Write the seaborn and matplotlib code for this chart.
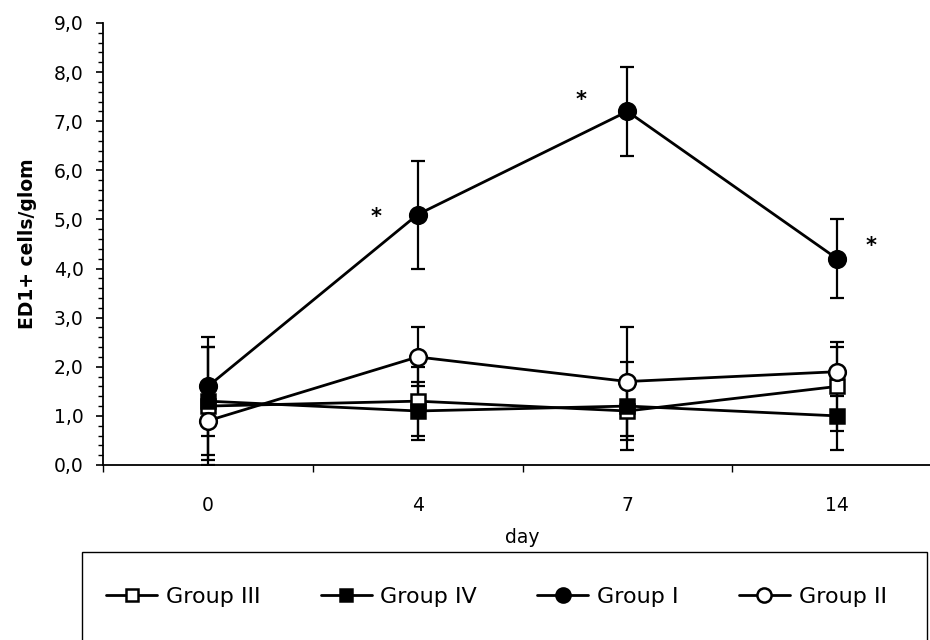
import numpy as np
import matplotlib
matplotlib.use("Agg")
import matplotlib.pyplot as plt
import seaborn as sns
from matplotlib.patches import Rectangle
from matplotlib.ticker import FixedLocator, MultipleLocator, FuncFormatter

# values (mean and error bar half-length)
days = ["0", "4", "7", "14"]
group_labels = ["Group III", "Group IV", "Group I", "Group II"]
group_iii = [1.2, 1.3, 1.1, 1.6]
err_iii = [1.2, 0.7, 0.6, 0.9]
group_iv = [1.3, 1.1, 1.2, 1.0]
err_iv = [1.1, 0.6, 0.9, 0.7]
group_i = [1.6, 5.1, 7.2, 4.2]
err_i = [1.0, 1.1, 0.9, 0.8]
group_ii = [0.9, 2.2, 1.7, 1.9]
err_ii = [0.8, 0.6, 1.1, 0.5]
sig_days = ["4", "7", "14"]

sns.set_style('ticks')
plt.rcParams['font.family'] = ['DejaVu Sans']
plt.rcParams['text.color'] = 'black'
plt.rcParams['axes.labelcolor'] = 'black'

fig = plt.figure(figsize=(9.3, 6.4), dpi=100)
ax = fig.add_axes([103/930, 1 - 465/640, (942 - 103)/930, (465 - 23)/640])

series = [
    (group_iii, err_iii, 's', 'white', 9.5),
    (group_iv, err_iv, 's', 'black', 9.5),
    (group_i, err_i, 'o', 'black', 12),
    (group_ii, err_ii, 'o', 'white', 12),
]

for (vals, errs, mk, fc, ms), lab in zip(series, group_labels):
    ax.errorbar(days, vals, yerr=errs, fmt='none', ecolor='black',
                elinewidth=1.6, capsize=5, capthick=1.6, zorder=2)
    sns.lineplot(x=days, y=vals, sort=False, ax=ax, color='black', lw=2,
                 marker=mk, markersize=ms, markerfacecolor=fc,
                 markeredgecolor='black', markeredgewidth=1.8,
                 label=lab, zorder=3)

handles, labels = ax.get_legend_handles_labels()
ax.get_legend().remove()

# significance stars
star_shift = {"4": (-0.2, -0.05), "7": (-0.22, 0.23), "14": (0.16, 0.26)}
for d in sig_days:
    i = days.index(d)
    dx, dy = star_shift[d]
    ax.text(i + dx, group_i[i] + dy, "*", ha='center', va='center',
            fontsize=15, fontweight='bold')

ax.set_xlim(-0.5, 3.5)
ax.set_ylim(0, 9)
ax.yaxis.set_major_locator(MultipleLocator(1))
ax.yaxis.set_minor_locator(MultipleLocator(0.2))
ax.yaxis.set_major_formatter(FuncFormatter(lambda v, p: f"{v:.1f}".replace('.', ',')))
ax.xaxis.set_minor_locator(FixedLocator([-0.5, 0.5, 1.5, 2.5, 3.5]))

ax.tick_params(axis='both', which='both', colors='black')
ax.tick_params(axis='y', which='major', length=5, width=1.2, pad=9, labelsize=13.5)
ax.tick_params(axis='y', which='minor', length=3.5, width=1.0)
ax.tick_params(axis='x', which='major', length=0, pad=22, labelsize=13.5)
ax.tick_params(axis='x', which='minor', length=5, width=1.0)

sns.despine(ax=ax)
for s in ['left', 'bottom']:
    ax.spines[s].set_linewidth(1.3)
    ax.spines[s].set_color('black')

ax.set_xlabel("day", fontsize=13.5, labelpad=10)
ax.set_ylabel("ED1+ cells/glom", fontsize=13.5, fontweight='bold', labelpad=12)

fig.add_artist(Rectangle((82/930, -0.1), (927 - 82)/930, 0.1 + (1 - 552/640),
                         transform=fig.transFigure, fill=False,
                         edgecolor='black', lw=1))
fig.legend(handles, labels, ncol=4, loc='center left',
           bbox_to_anchor=(86/930, 1 - 597/640), frameon=False,
           fontsize=16, handlelength=2.3, handletextpad=0.4,
           columnspacing=2.7, markerscale=0.85)

fig.savefig("out.png", dpi=100)
